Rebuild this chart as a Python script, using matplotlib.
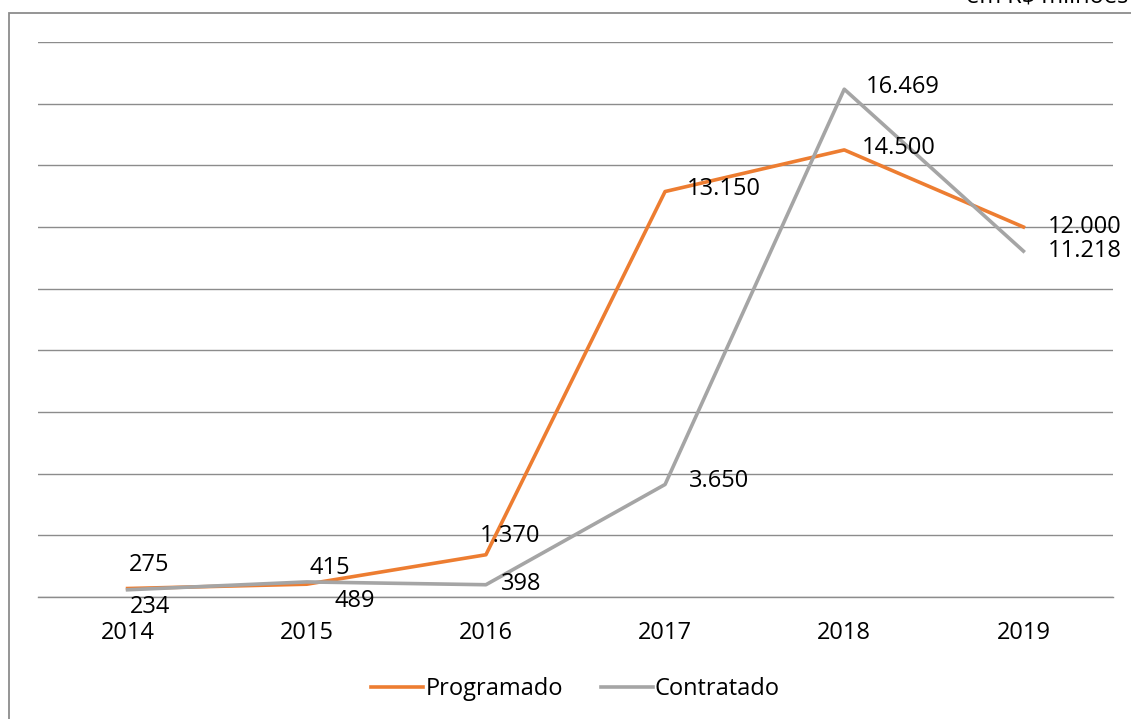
import matplotlib.pyplot as plt
from matplotlib.patches import Rectangle

anos = ['2014', '2015', '2016', '2017', '2018', '2019']
programado = [275, 415, 1370, 13150, 14500, 12000]
contratado = [234, 489, 398, 3650, 16469, 11218]

# label offsets in pixels (right/above/below the point)
off_prog = [(22, 24), (23, 16), (24, 19), (59, 3), (54, 2), (61, 0)]
off_cont = [(22, -17), (48, -19), (35, 1), (54, 3), (59, 2), (61, 0)]

plt.rcParams['font.family'] = ['Open Sans', 'DejaVu Sans']
FS = 17

def fmt(v):
    return f"{v:,}".replace(',', '.')

fig = plt.figure(figsize=(11.31, 7.19), dpi=100)
ax = fig.add_axes([38/1131, 1-597/719, (1113-38)/1131, (597-42)/719])

x = [i + 0.5 for i in range(len(anos))]
ax.plot(x, programado, color='#ED7D31', lw=2.6, label='Programado', zorder=3)
ax.plot(x, contratado, color='#A5A5A5', lw=2.6, label='Contratado', zorder=3)

for xi, v, o in zip(x, programado, off_prog):
    ax.annotate(fmt(v), (xi, v), xytext=o, textcoords='offset pixels',
                ha='center', va='center', fontsize=FS, color='black', zorder=4)
for xi, v, o in zip(x, contratado, off_cont):
    ax.annotate(fmt(v), (xi, v), xytext=o, textcoords='offset pixels',
                ha='center', va='center', fontsize=FS, color='black', zorder=4)

ax.set_xlim(0, 6)
ax.set_ylim(0, 18000)
ax.set_yticks(range(0, 18001, 2000))
ax.set_yticklabels([])
ax.set_xticks(x)
ax.set_xticklabels(anos, fontsize=FS)
ax.tick_params(axis='both', length=0, pad=17)
ax.grid(axis='y', color='#8c8c8c', lw=1)
ax.axhline(0, color='#8c8c8c', lw=1, clip_on=False, zorder=1)
ax.set_axisbelow(True)
for s in ax.spines.values():
    s.set_visible(False)

ax.legend(loc='center', bbox_to_anchor=(0.5, (597-689)/555), ncol=2,
          frameon=False, fontsize=FS, handlelength=2.2, handletextpad=0.1,
          columnspacing=1.6)

fig.patches.append(Rectangle((9/1131, -0.1), 1.2, 1.1 - 13/719, transform=fig.transFigure,
                             fill=False, edgecolor='#8c8c8c', lw=1.3))
fig.text(1128/1131, 1 - 3/719, 'em R$ milhões', ha='right', va='baseline', fontsize=FS)

fig.savefig('out.png', dpi=100)
